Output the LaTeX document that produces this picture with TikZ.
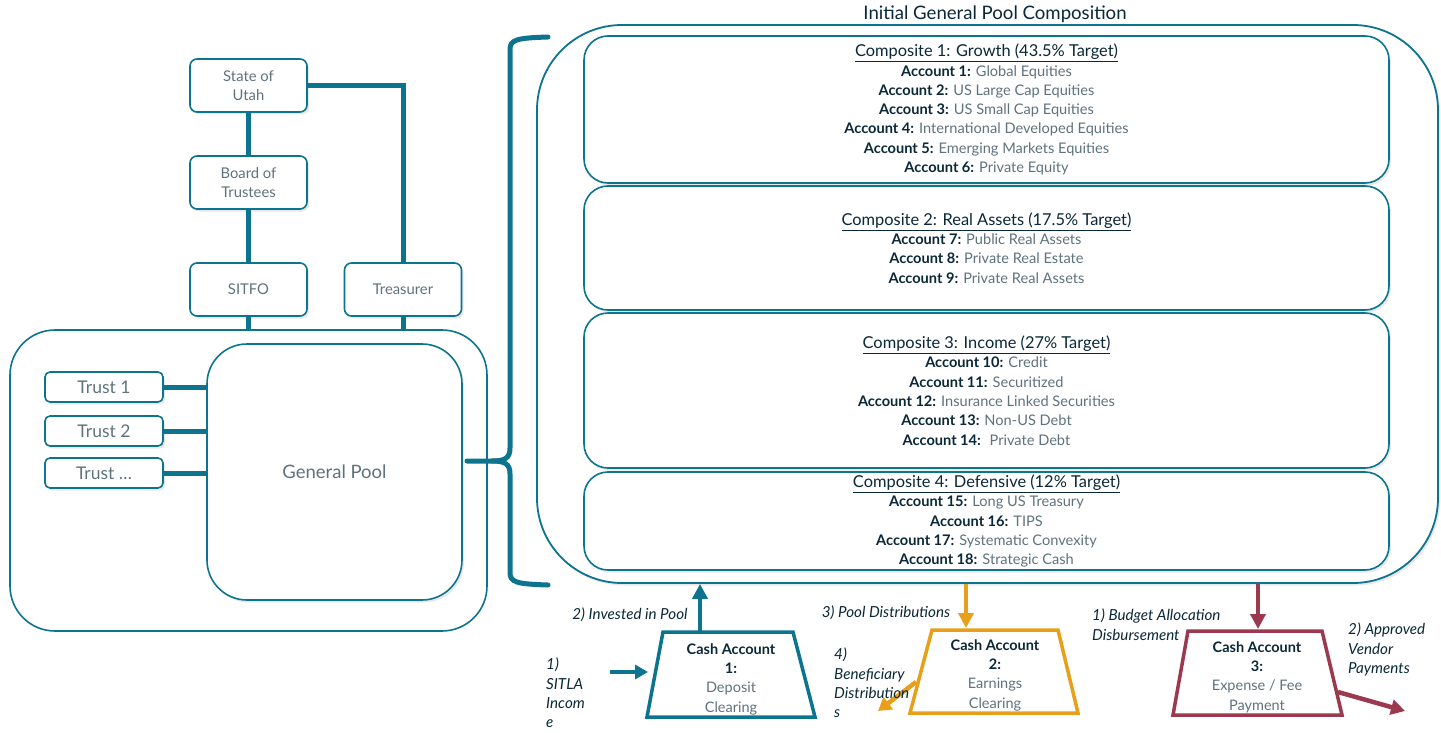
\documentclass[tikz,border=0pt]{standalone}
\usepackage{fontspec}
\setmainfont{Lato}
\usetikzlibrary{arrows.meta,shadows}
\definecolor{cTeal}{RGB}{12,116,142}
\definecolor{cOrange}{RGB}{232,160,26}
\definecolor{cMaroon}{RGB}{155,58,78}
\definecolor{cNavy}{RGB}{10,40,55}
\definecolor{cGray}{RGB}{95,115,125}
\begin{document}
\begin{tikzpicture}[x=1pt,y=-1pt,
  shad/.style={drop shadow={opacity=0.18,shadow xshift=2pt,shadow yshift=-2.5pt}},
  orgbox/.style={draw=cTeal,line width=1.6pt,rounded corners=7pt,fill=white,shad,
    text=cGray,font=\fontsize{14.8}{19}\selectfont,align=center,inner sep=0pt,
    minimum width=117pt,minimum height=53pt},
  trustbox/.style={draw=cTeal,line width=1.6pt,rounded corners=5pt,fill=white,shad,
    text=cGray,font=\fontsize{17.5}{20}\selectfont,inner sep=0pt,
    minimum width=118pt,minimum height=30pt},
  compbox/.style={draw=cTeal,line width=1.6pt,rounded corners=24pt,fill=white,shad,
    text=cGray,font=\fontsize{14.6}{19.3}\selectfont,align=center,inner sep=0pt,
    minimum width=805pt},
  conn/.style={cTeal,line width=5pt},
  flow/.style={line width=4.5pt},
  lbl/.style={text=cNavy,font=\fontsize{15.2}{19.3}\selectfont\itshape,inner sep=0pt,align=left},
  cash/.style={text=cGray,font=\fontsize{14.5}{19.3}\selectfont,align=center,inner sep=0pt},
  trap/.style={line width=3.5pt,line join=miter}
]
\useasboundingbox[fill=white] (0,0) rectangle (1441,733);

% title
\node[text=cNavy,font=\fontsize{18.6}{20}\selectfont] (title) at (995,14) {Initial General Pool Composition};

% big box
\node[draw=cTeal,line width=1.8pt,rounded corners=85pt,fill=white,shad,
  minimum width=901pt,minimum height=558pt,inner sep=0pt] (big) at (987.5,304) {};

\newcommand{\acc}[2]{{\color{cNavy}\bfseries #1} #2}
\newcommand{\ctitle}[1]{{\color{cNavy}\fontsize{16.4}{19.3}\selectfont\underline{#1}}}

\node[compbox,minimum height=147pt] (c1) at (986.5,109.5) {%
  \ctitle{Composite 1: Growth (43.5\% Target)}\\
  \acc{Account 1:}{Global Equities}\\
  \acc{Account 2:}{US Large Cap Equities}\\
  \acc{Account 3:}{US Small Cap Equities}\\
  \acc{Account 4:}{International Developed Equities}\\
  \acc{Account 5:}{Emerging Markets Equities}\\
  \acc{Account 6:}{Private Equity}};
\node[compbox,minimum height=124pt] (c2) at (986.5,248) {%
  \ctitle{Composite 2: Real Assets (17.5\% Target)}\\
  \acc{Account 7:}{Public Real Assets}\\
  \acc{Account 8:}{Private Real Estate}\\
  \acc{Account 9:}{Private Real Assets}};
\node[compbox,minimum height=155pt] (c3) at (986.5,390.5) {%
  \ctitle{Composite 3: Income (27\% Target)}\\
  \acc{Account 10:}{Credit}\\
  \acc{Account 11:}{Securitized}\\
  \acc{Account 12:}{Insurance Linked Securities}\\
  \acc{Account 13:}{Non-US Debt}\\
  \acc{Account 14:}{\ Private Debt}};
\node[compbox,minimum height=98pt] (c4) at (986.5,521) {%
  \ctitle{Composite 4: Defensive (12\% Target)}\\
  \acc{Account 15:}{Long US Treasury}\\
  \acc{Account 16:}{TIPS}\\
  \acc{Account 17:}{Systematic Convexity}\\
  \acc{Account 18:}{Strategic Cash}};

% left side
\node[draw=cTeal,line width=1.6pt,rounded corners=45pt,fill=white,
  minimum width=477pt,minimum height=301pt,inner sep=0pt] (outer) at (248.5,480.5) {};
\node[draw=cTeal,line width=1.6pt,rounded corners=40pt,fill=white,shad,
  minimum width=255pt,minimum height=256pt,inner sep=0pt,
  text=cGray,font=\fontsize{18.5}{22}\selectfont] (pool) at (334.5,472) {General Pool};

\node[trustbox] (t1) at (104,387) {Trust 1};
\node[trustbox] (t2) at (104,431) {Trust 2};
\node[trustbox] (t3) at (104,473) {Trust \dots};

\node[orgbox] (state) at (248.5,85.5) {State of\\Utah};
\node[orgbox] (board) at (248.5,182.5) {Board of\\Trustees};
\node[orgbox] (sitfo) at (248.5,289.5) {SITFO};
\node[orgbox] (treas) at (403,289.5) {Treasurer};

\draw[conn] (state) -- (board);
\draw[conn] (board) -- (sitfo);
\draw[conn] (sitfo.south) -- (sitfo.south |- outer.north);
\draw[conn] (state.east) -- (treas.north |- state.east) -- (treas.north);
\draw[conn] (treas.south) -- (treas.south |- outer.north);
\draw[conn] (t1.east) -- (t1.east -| pool.west);
\draw[conn] (t2.east) -- (t2.east -| pool.west);
\draw[conn] (t3.east) -- (t3.east -| pool.west);

% brace
\coordinate (btip) at (467,461);
\draw[conn,line cap=round] (548,37) .. controls (515,38) and (510,40) .. (510,50) -- (510,448)
  .. controls (510,458) and (505,461) .. (492,461) -- (btip);
\draw[conn,line cap=round] (492,461) .. controls (505,461) and (510,464) .. (510,474) -- (510,572)
  .. controls (510,582) and (515,584) .. (548,585);

% cash accounts
\coordinate (k1a) at (663,632); \coordinate (k1b) at (793,632);
\coordinate (k1c) at (815,717); \coordinate (k1d) at (647,717);
\draw[trap,draw=cTeal] (k1a) -- (k1b) -- (k1c) -- (k1d) -- cycle;
\node[cash] (cash1) at (731,679) {{\color{cNavy}\bfseries Cash Account}\\{\color{cNavy}\bfseries 1:}\\Deposit\\Clearing};

\coordinate (k2a) at (932,630); \coordinate (k2b) at (1058,630);
\coordinate (k2c) at (1078,713); \coordinate (k2d) at (910,713);
\draw[trap,draw=cOrange] (k2a) -- (k2b) -- (k2c) -- (k2d) -- cycle;
\node[cash] (cash2) at (995,675) {{\color{cNavy}\bfseries Cash Account}\\{\color{cNavy}\bfseries 2:}\\Earnings\\Clearing};

\coordinate (k3a) at (1188,631); \coordinate (k3b) at (1322,631);
\coordinate (k3c) at (1342,715); \coordinate (k3d) at (1173,715);
\draw[trap,draw=cMaroon] (k3a) -- (k3b) -- (k3c) -- (k3d) -- cycle;
\node[cash] (cash3) at (1257,677) {{\color{cNavy}\bfseries Cash Account}\\{\color{cNavy}\bfseries 3:}\\Expense / Fee\\Payment};

% flow arrows
\coordinate (k1top) at (700,631);
\coordinate (k2top) at (966,628);
\coordinate (k3top) at (1258,629);
\draw[flow,cTeal,-{Triangle[length=15pt,width=15pt]}] (k1top) -- (k1top |- big.south);
\draw[flow,cOrange,-{Triangle[length=15pt,width=15pt]}] (k2top |- big.south) -- (k2top);
\draw[flow,cMaroon,-{Triangle[length=15pt,width=15pt]}] (k3top |- big.south) -- (k3top);

\coordinate (sitlaS) at (610,672);
\coordinate (sitlaE) at (648,672);
\draw[flow,cTeal,-{Triangle[length=13pt,width=14pt]}] (sitlaS) -- (sitlaE);
\coordinate (benS) at (916,682);
\coordinate (benE) at (878,711);
\draw[flow,cOrange,-{Triangle[length=13pt,width=15pt]}] (benS) -- (benE);
\coordinate (venS) at (1338,692);
\coordinate (venE) at (1405,711);
\draw[flow,cMaroon,-{Triangle[length=14pt,width=15pt]}] (venS) -- (venE);

% labels
\node[lbl] (l1) at (630,615) {2) Invested in Pool};
\node[lbl] (l2) at (886,613) {3) Pool Distributions};
\node[lbl,anchor=north west] (l3) at (1092,609) {1) Budget Allocation\\Disbursement};
\node[lbl,anchor=north west] (l4) at (1348,623) {2) Approved\\Vendor\\Payments};
\node[lbl,anchor=north west] (l5) at (546,658) {1)\\SITLA\\Incom\\e};
\node[lbl,anchor=north west] (l6) at (834,648) {4)\\Beneficiary\\Distribution\\s};
\end{tikzpicture}
\end{document}
